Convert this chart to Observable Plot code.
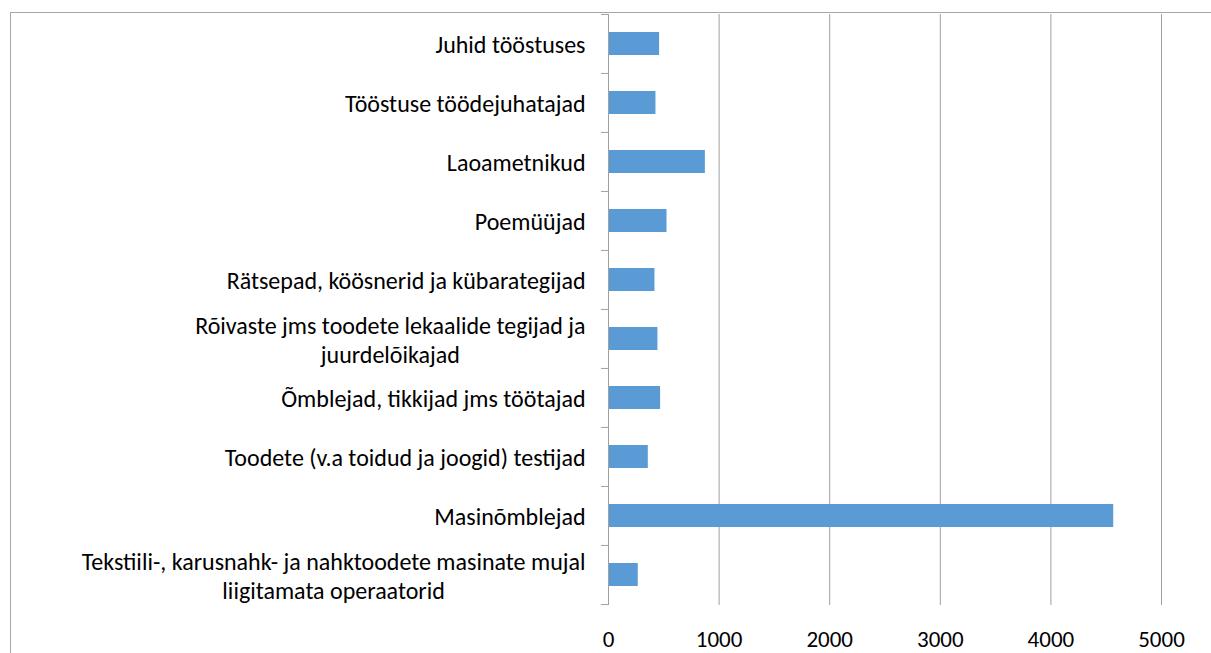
<!DOCTYPE html>
<html><head><meta charset="utf-8">
<script src="https://cdn.jsdelivr.net/npm/d3@7"></script>
<script src="https://cdn.jsdelivr.net/npm/@observablehq/plot@0.6"></script>
<style>
body{margin:0;background:#fff;overflow:hidden}
#wrap{position:relative;width:1211px;height:653px}
#wrap svg{position:absolute;left:0;top:0}
#frame{position:absolute;left:10px;top:12px;right:0;bottom:-2px;border-left:1px solid #a6a6a6;border-top:1px solid #a6a6a6;pointer-events:none}
</style></head><body><div id="wrap"></div>
<script>
const categories = [
  "Juhid tööstuses",
  "Tööstuse töödejuhatajad",
  "Laoametnikud",
  "Poemüüjad",
  "Rätsepad, köösnerid ja kübarategijad",
  "Rõivaste jms toodete lekaalide tegijad ja juurdelõikajad",
  "Õmblejad, tikkijad jms töötajad",
  "Toodete (v.a toidud ja joogid) testijad",
  "Masinõmblejad",
  "Tekstiili-, karusnahk- ja nahktoodete masinate mujal liigitamata operaatorid"
];
const values = [462, 429, 876, 529, 420, 447, 471, 360, 4568, 269];
const labelLines = [
  "Juhid tööstuses",
  "Tööstuse töödejuhatajad",
  "Laoametnikud",
  "Poemüüjad",
  "Rätsepad, köösnerid ja kübarategijad",
  "Rõivaste jms toodete lekaalide tegijad ja\njuurdelõikajad",
  "Õmblejad, tikkijad jms töötajad",
  "Toodete (v.a toidud ja joogid) testijad",
  "Masinõmblejad",
  "Tekstiili-, karusnahk- ja nahktoodete masinate mujal\nliigitamata operaatorid"
];
const xTicks = [0, 1000, 2000, 3000, 4000, 5000];

const data = categories.map((c, i) => ({category: c, value: values[i]}));
const W = 1211, H = 653, mt = 14, mb = 48, ml = 608, mr = 50;
const step = (H - mt - mb) / categories.length;
const font = "Carlito, Lato, sans-serif";
const grey = "#a0a0a0";

const plot = Plot.plot({
  width: W, height: H,
  marginTop: mt, marginBottom: mb, marginLeft: ml, marginRight: mr,
  style: {fontFamily: font, fontSize: "24px", color: "#000", background: "transparent"},
  x: {domain: [0, 5000]},
  y: {domain: categories, paddingInner: 0.61, paddingOuter: 0.305},
  marks: [
    Plot.gridX(xTicks, {stroke: grey, strokeOpacity: 1}),
    Plot.barX(data, {x: "value", y: "category", fill: "#5b9bd5"}),
    Plot.ruleX([0], {stroke: grey}),
    Plot.axisX({ticks: xTicks, tickSize: 0, tickPadding: 25, tickFormat: d => String(d), label: null, fontSize: 23}),
    Plot.axisY({tickSize: 0, tickPadding: 23, tickFormat: d => labelLines[categories.indexOf(d)], label: null, lineHeight: 1.21, fontSize: 24}),
    Plot.axisY({tickSize: 7, tickFormat: () => "", dy: -step / 2, stroke: grey, strokeOpacity: 1, label: null}),
    Plot.axisY({ticks: [categories[categories.length - 1]], tickSize: 7, tickFormat: () => "", dy: step / 2, stroke: grey, strokeOpacity: 1, label: null})
  ]
});
const wrap = document.getElementById("wrap");
wrap.appendChild(plot);
const frame = document.createElement("div");
frame.id = "frame";
wrap.appendChild(frame);

d3.select(plot).selectAll('g[aria-label="y-axis tick label"] text').each(function () {
  const ts = this.querySelectorAll("tspan");
  if (ts.length > 1) {
    const b = this.getBBox();
    this.setAttribute("text-anchor", "middle");
    ts.forEach(t => t.setAttribute("x", b.x + b.width / 2));
  }
});
</script>
</body></html>
